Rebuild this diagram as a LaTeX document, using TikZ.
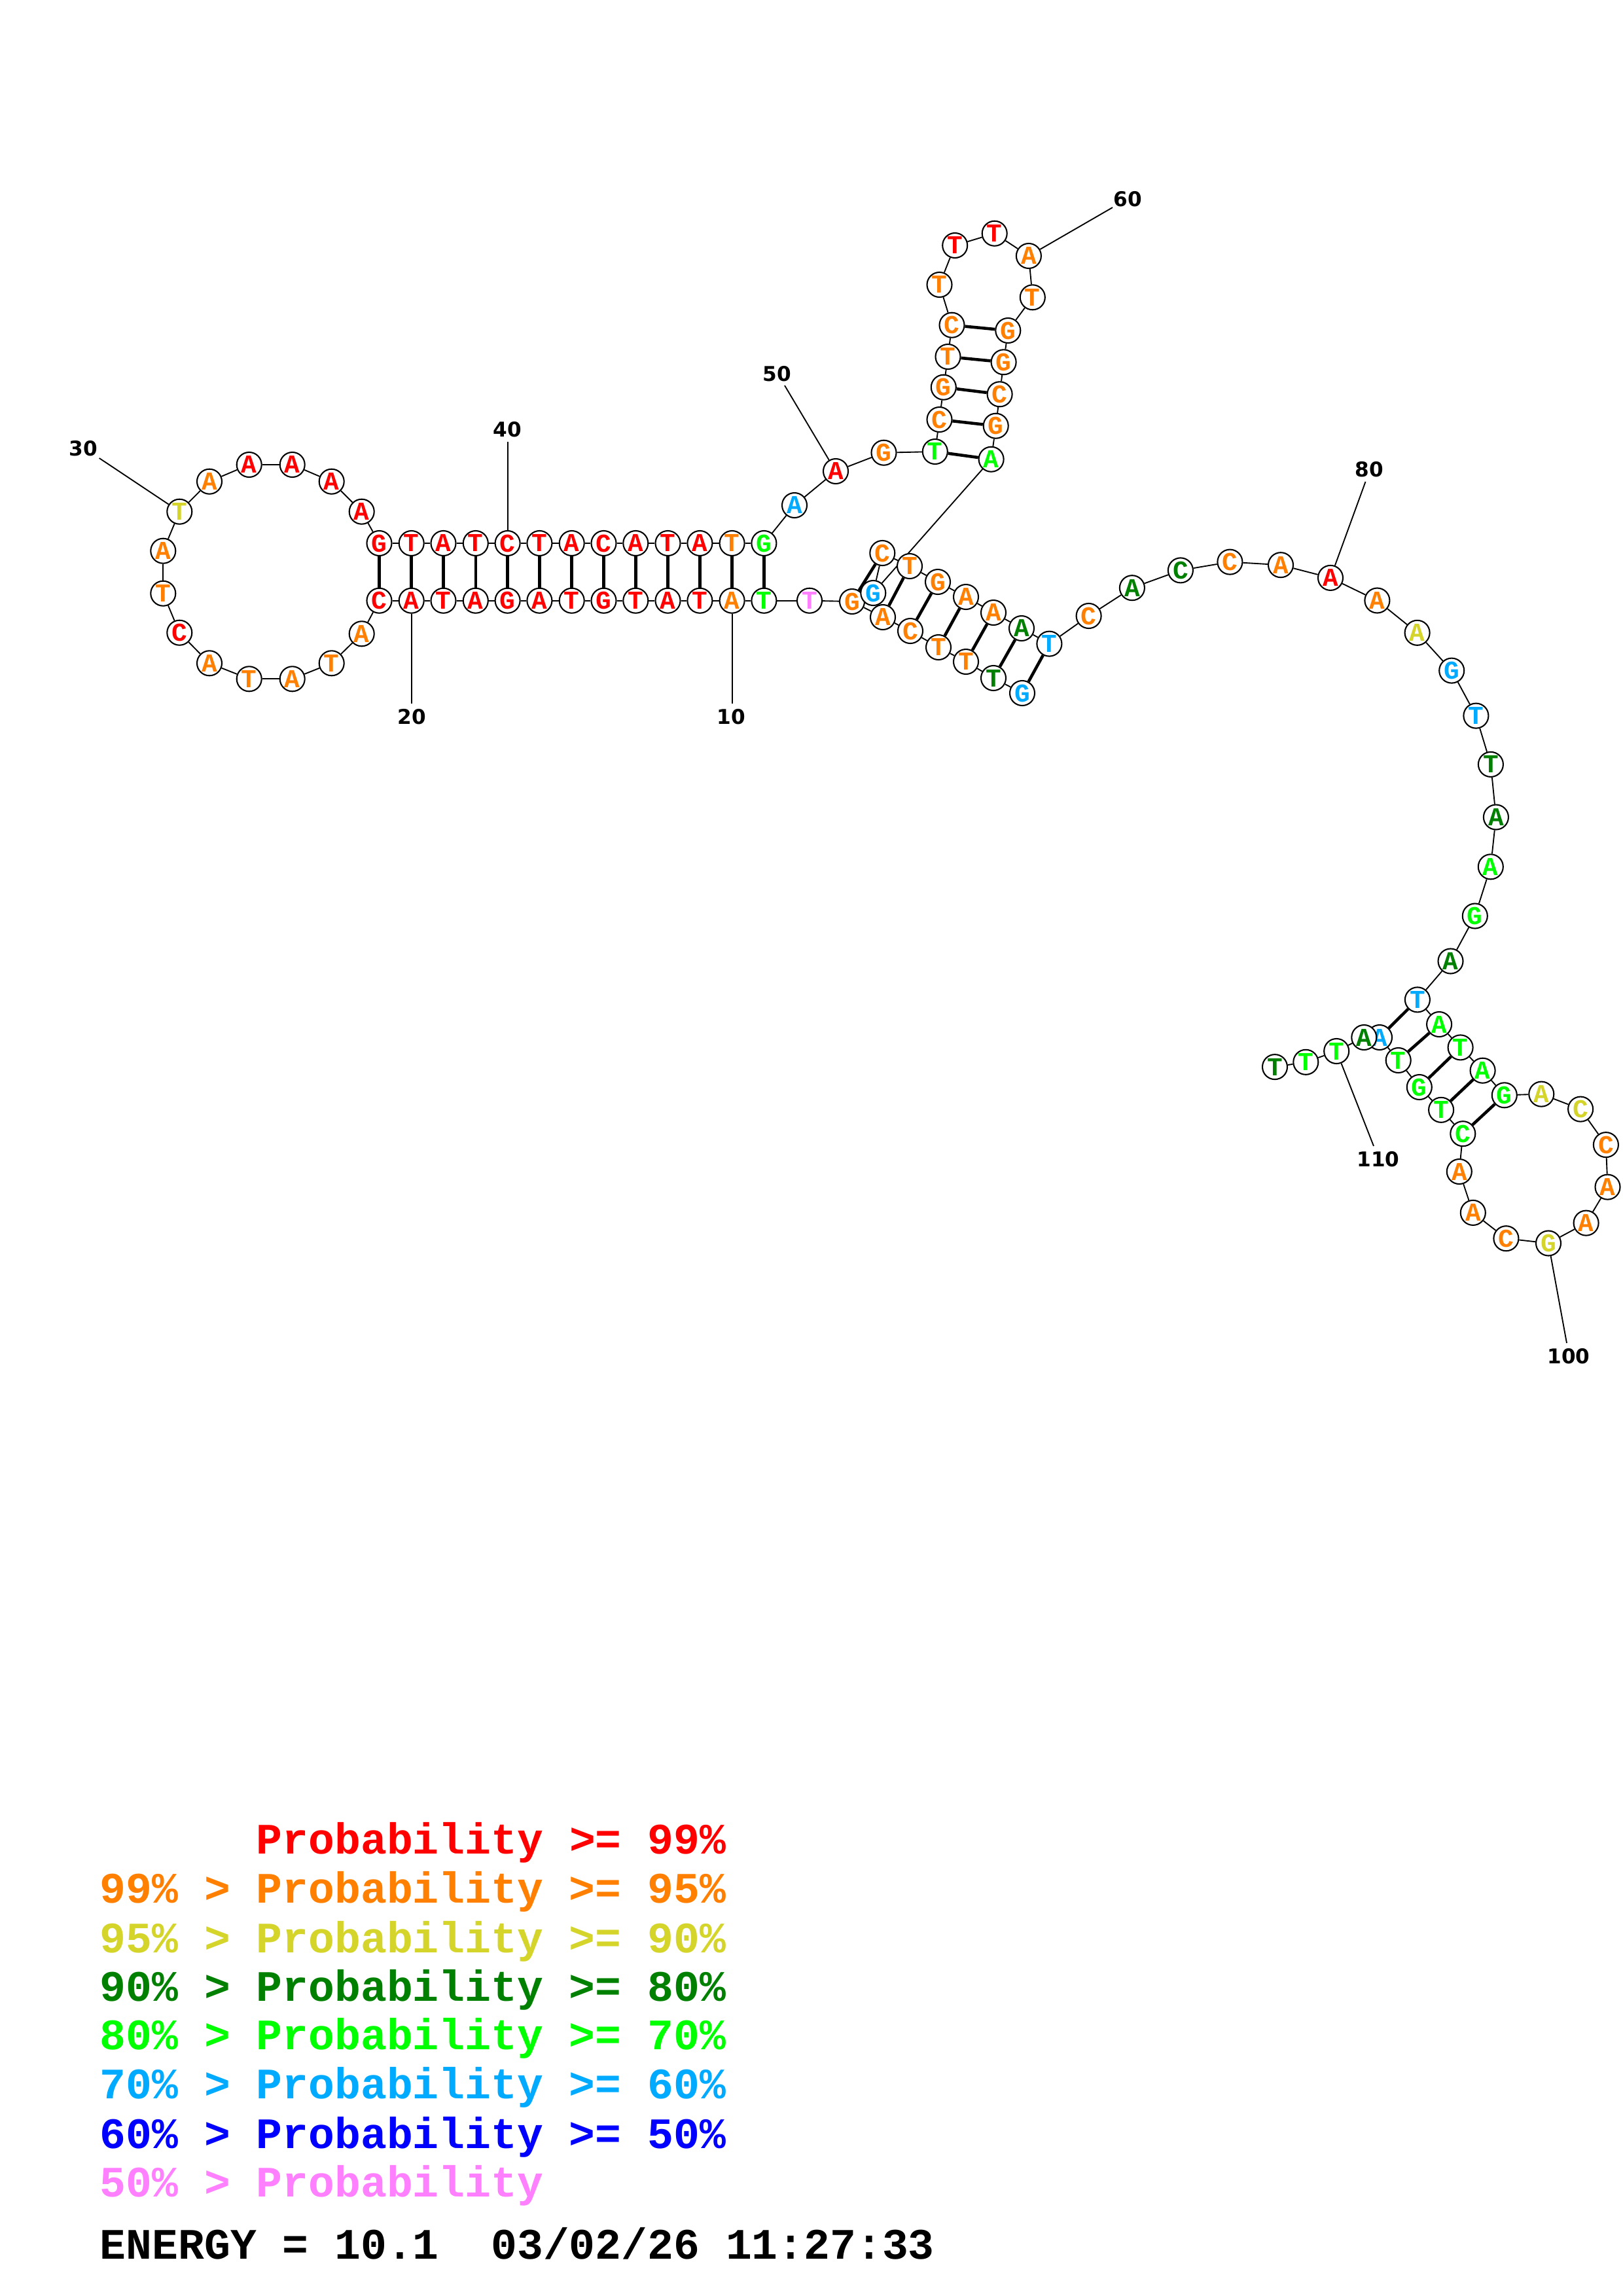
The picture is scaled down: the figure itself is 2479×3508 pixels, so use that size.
\documentclass[tikz,border=0pt]{standalone}
\usepackage{fontspec}
\usetikzlibrary{backgrounds}
\newfontfamily\basefont{Liberation Mono}
\newfontfamily\numfont{DejaVu Sans}
\definecolor{cr}{RGB}{255,0,0}
\definecolor{co}{RGB}{255,128,0}
\definecolor{cy}{RGB}{212,212,42}
\definecolor{cd}{RGB}{0,128,0}
\definecolor{cg}{RGB}{0,255,0}
\definecolor{cc}{RGB}{0,170,255}
\definecolor{cb}{RGB}{0,0,255}
\definecolor{cp}{RGB}{255,128,255}
\begin{document}
\begin{tikzpicture}[x=0.0084712cm, y=-0.0084712cm,
    nt/.style={circle, draw, line width=0.5pt, fill=white, inner sep=0pt,
        minimum size=0.322cm, font=\basefont\bfseries\fontsize{9.5}{9.5}\selectfont},
    bb/.style={line width=0.45pt},
    bp/.style={line width=1.1pt},
    numlbl/.style={font=\numfont\bfseries\fontsize{7.5}{8}\selectfont},
    legend/.style={anchor=base west, inner sep=0pt, font=\basefont\bfseries\fontsize{16}{16}\selectfont}]
    \useasboundingbox (0,0) rectangle (2479,3508);

    % Bases, 5' to 3'
    \foreach \n/\x/\y/\s/\c in {
        1/1562/1059/G/cc, 2/1518/1036/T/cd, 3/1476/1011/T/co, 4/1434/989/T/co,
        5/1391/964/C/co, 6/1349/943/A/co, 7/1302/919/G/co, 8/1237/917.7/T/cp,
        9/1167.4/917.7/T/cg, 10/1118.6/917.7/A/co, 11/1069.4/917.7/T/cr, 12/1020.5/917.7/A/cr,
        13/971.3/917.7/T/cr, 14/922.5/917.7/G/cr, 15/873.7/917.7/T/cr, 16/824.4/917.7/A/cr,
        17/775.6/917.7/G/cr, 18/726.8/917.7/A/cr, 19/677.5/917.7/T/cr, 20/628.7/917.7/A/cr,
        21/579.5/917.7/C/cr, 22/552.7/968.3/A/co, 23/506.7/1013.3/T/co, 24/446.7/1037.3/A/co,
        25/380.7/1037.3/T/co, 26/320/1013.3/A/co, 27/274.3/966.7/C/cr, 28/249.3/906.7/T/co,
        29/249.3/841.7/A/co, 30/274.3/781.7/T/cy, 31/320/735.7/A/co, 32/380.7/710/A/cr,
        33/446.7/710/A/cr, 34/506.7/735.7/A/cr, 35/552.7/781.7/A/cr, 36/579.5/830/G/cr,
        37/628.7/830/T/cr, 38/677.5/830/A/cr, 39/726.8/830/T/cr, 40/775.6/830/C/cr,
        41/824.4/830/T/cr, 42/873.7/830/A/cr, 43/922.5/830/C/cr, 44/971.3/830/A/cr,
        45/1020.5/830/T/cr, 46/1069.4/830/A/cr, 47/1118.6/830/T/co, 48/1167.4/830/G/cg,
        49/1214/772/A/cc, 50/1277/720/A/cr, 51/1350.5/691.7/G/co, 52/1428.8/690/T/cg,
        53/1435.5/641/C/co, 54/1441.8/591.7/G/co, 55/1448.5/545/T/co, 56/1454.5/496.7/C/co,
        57/1435.5/435/T/co, 58/1459.2/375/T/cr, 59/1519.7/356.7/T/cr, 60/1571.9/391/A/co,
        61/1577.8/454.3/T/co, 62/1540.3/505/G/co, 63/1533.6/553.3/G/co, 64/1527.6/602.3/C/co,
        65/1521.7/650.7/G/co, 66/1514.6/701.7/A/cg, 67/1334.3/906/G/cc, 68/1348.3/845/C/co,
        69/1390/865/T/co, 70/1433/889/G/co, 71/1476/912/A/co, 72/1518/936/A/co,
        73/1561/960/A/cd, 74/1603.4/983.6/T/cc, 75/1663.6/941/C/co, 76/1729.9/898.2/A/cd,
        77/1803.9/871.4/C/cd, 78/1879.4/858.6/C/co, 79/1957/863.2/A/co, 80/2033/882.9/A/cr,
        81/2104.4/917.5/A/co, 82/2165.6/966.8/A/cy, 83/2218.2/1024.6/G/cc, 84/2255.4/1093.6/T/cc,
        85/2277.9/1167.9/T/cd, 86/2285.9/1248.5/A/cd, 87/2277.8/1324.3/A/cg, 88/2253.8/1399.5/G/cg,
        89/2216.5/1468.5/A/cd, 90/2165.9/1527.4/T/cc, 91/2199.1/1565/A/cg, 92/2231.6/1600.4/T/cg,
        93/2265.6/1635.7/A/cg, 94/2298.8/1673.3/G/cg, 95/2355.3/1671.6/A/cy, 96/2415.1/1694.6/C/cy,
        97/2453.9/1749.1/C/co, 98/2456.5/1813.6/A/co, 99/2423.6/1868.6/A/co, 100/2366/1899.5/G/cy,
        101/2301.4/1892.2/C/co, 102/2250.8/1852.9/A/co, 103/2229.8/1790/A/co, 104/2235.3/1732.2/C/cg,
        105/2202.1/1695.8/T/cg, 106/2168.8/1661/G/cg, 107/2136.7/1620/T/cg, 108/2108/1585/A/cc,
        109/2084.3/1585/A/cd, 110/2042.2/1606/T/cg, 111/1995.3/1622.8/T/cg, 112/1948/1630.1/T/cd}
        \node[nt, text=\c] (n\n) at (\x,\y) {\s};

    % Position numbers
    \foreach \n/\ex/\ey/\lx/\ly in {10/1118.6/1075/1117/1095, 20/628.7/1075/629/1095,
        30/151.7/700/127/685, 40/775.6/675/775/656, 50/1199/589/1187/571,
        60/1700/317/1723/304, 80/2086.5/736/2092/717, 100/2394/2052/2397/2072,
        110/2099/1751/2106/1771}
    {
        \coordinate (t\n) at (\ex,\ey);
        \node[numlbl] (l\n) at (\lx,\ly) {\n};
    }

    \begin{pgfonlayer}{background}
        % Backbone
        \foreach \i [evaluate=\i as \j using int(\i+1)] in {1,...,111}
            \draw[bb] (n\i) -- (n\j);
        % Pairs
        \foreach \a/\b in {1/74, 2/73, 3/72, 4/71, 5/70, 6/69, 7/68,
            9/48, 10/47, 11/46, 12/45, 13/44, 14/43, 15/42, 16/41, 17/40, 18/39,
            19/38, 20/37, 21/36, 52/66, 53/65, 54/64, 55/63, 56/62,
            90/108, 91/107, 92/106, 93/105, 94/104}
            \draw[bp] (n\a) -- (n\b);
        % Ticks to numbers
        \foreach \n in {10,20,30,40,50,60,80,100,110}
            \draw[bb] (n\n) -- (t\n);
    \end{pgfonlayer}

    % Legend
    \node[legend, text=cr] (k1) at (152,2832.5) {\hphantom{99\%\ >\ }Probability >= 99\%};
    \node[legend, text=co] (k2) at (152,2907.8) {99\% > Probability >= 95\%};
    \node[legend, text=cy] (k3) at (152,2983.6) {95\% > Probability >= 90\%};
    \node[legend, text=cd] (k4) at (152,3057.5) {90\% > Probability >= 80\%};
    \node[legend, text=cg] (k5) at (152,3131.9) {80\% > Probability >= 70\%};
    \node[legend, text=cc] (k6) at (152,3206.7) {70\% > Probability >= 60\%};
    \node[legend, text=cb] (k7) at (152,3282) {60\% > Probability >= 50\%};
    \node[legend, text=cp] (k8) at (152,3356.9) {50\% > Probability};
    \node[legend] (energy) at (152,3451.9) {ENERGY = 10.1\ \ 03/02/26 11:27:33};
\end{tikzpicture}
\end{document}
